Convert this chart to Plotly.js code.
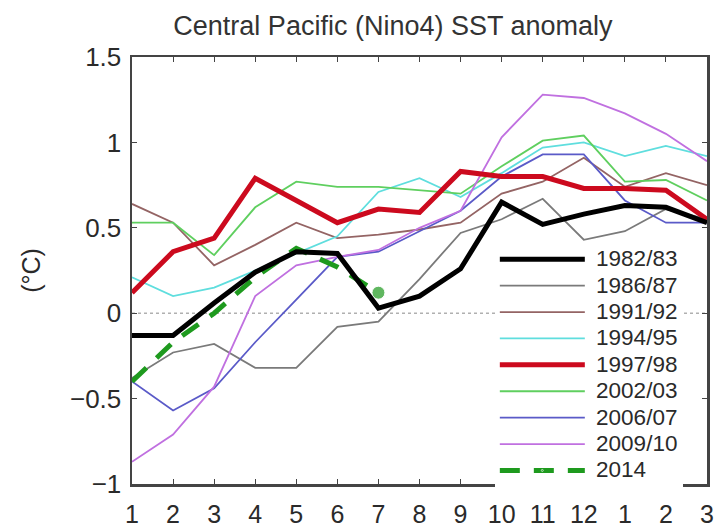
<!DOCTYPE html>
<html>
<head>
<meta charset="utf-8">
<script src="https://cdn.plot.ly/plotly-3.0.1.min.js"></script>
<style>html,body{margin:0;padding:0;background:#fff;}#chart{width:717px;height:531px;}</style>
</head>
<body>
<div id="chart"></div>
<script>
var months = [1,2,3,4,5,6,7,8,9,10,11,12,13,14,15];
var tickLabels = ['1','2','3','4','5','6','7','8','9','10','11','12','1','2','3'];

var names = ['1982/83','1986/87','1991/92','1994/95','1997/98','2002/03','2006/07','2009/10','2014'];

var y1982 = [-0.13,-0.13,0.06,0.24,0.36,0.35,0.03,0.10,0.26,0.65,0.52,0.58,0.63,0.62,0.53];
var y1986 = [-0.38,-0.23,-0.18,-0.32,-0.32,-0.08,-0.05,0.20,0.47,0.55,0.67,0.43,0.48,0.61,0.55];
var y1991 = [0.64,0.53,0.28,0.40,0.53,0.44,0.46,0.49,0.53,0.70,0.77,0.91,0.74,0.82,0.75];
var y1994 = [0.21,0.10,0.15,0.25,0.35,0.45,0.71,0.79,0.68,0.82,0.97,1.00,0.92,0.98,0.92];
var y1997 = [0.12,0.36,0.44,0.79,0.66,0.53,0.61,0.59,0.83,0.80,0.80,0.73,0.73,0.72,0.55];
var y2002 = [0.53,0.53,0.34,0.62,0.77,0.74,0.74,0.72,0.70,0.86,1.01,1.04,0.77,0.78,0.66];
var y2006 = [-0.40,-0.57,-0.44,-0.17,0.08,0.33,0.36,0.48,0.60,0.80,0.93,0.93,0.66,0.53,0.53];
var y2009 = [-0.87,-0.71,-0.43,0.10,0.28,0.33,0.37,0.50,0.60,1.03,1.28,1.26,1.17,1.05,0.89];
var y2014 = [-0.40,-0.17,0.00,0.21,0.38,0.27,0.12];

var series = [y1982,y1986,y1991,y1994,y1997,y2002,y2006,y2009,y2014];
var colors = ['#000000','#7a7a7a','#946464','#5fdede','#cc0a1e','#5fcf5f','#5a5ac8','#c070e0','#1e9a1e'];
var widths = [5,1.8,1.8,1.8,5,1.8,1.8,1.8,5];
var dashes = ['solid','solid','solid','solid','solid','solid','solid','solid','20px,14px'];
// drawing order: thin lines first, then 2014, 1997/98, 1982/83
var drawOrder = [1,2,3,5,6,7,8,4,0];

var traces = drawOrder.map(function(i){
  var ys = series[i];
  var t = {
    type:'scatter', mode:'lines',
    name:'<span style="font-size:22.5px">\u00a0' + names[i] + '</span>',
    x: months.slice(0, ys.length), y: ys,
    line:{color:colors[i], width:widths[i], dash:dashes[i]},
    legendrank: i+1
  };
  if (names[i] === '2014') {
    t.mode = 'lines+markers';
    t.marker = {color:colors[i], size: ys.map(function(v,k){return k===ys.length-1?13:0;})};
  }
  return t;
});

var layout = {
  width:717, height:531,
  margin:{l:132, r:10, t:57, b:47},
  paper_bgcolor:'#fff', plot_bgcolor:'#fff',
  font:{family:'Liberation Sans, Arial, sans-serif', color:'#2a2a2a', size:24},
  title:{text:'Central Pacific (Nino4) SST anomaly', x:0.548, xanchor:'center', xref:'container',
         y:0.951, yref:'container', yanchor:'middle', font:{size:27, color:'#333'}},
  showlegend:true,
  legend:{x:0.631, xanchor:'left', y:0.569, yanchor:'top', bgcolor:'rgba(255,255,255,1)',
          font:{size:18, color:'#2a2a2a'}, itemwidth:85, traceorder:'normal', tracegroupgap:0},
  xaxis:{range:[1,15], tickvals:months, ticktext:tickLabels, showgrid:false, zeroline:false,
         showline:true, linecolor:'#444', linewidth:2.5, mirror:'ticks',
         ticks:'inside', ticklen:5, tickcolor:'#444', ticklabelstandoff:6,
         tickfont:{size:25, color:'#2a2a2a'}},
  yaxis:{range:[-1,1.5], tickvals:[-1,-0.5,0,0.5,1,1.5], ticktext:['\u22121','\u22120.5','0','0.5','1','1.5'],
         showgrid:false, zeroline:false,
         showline:true, linecolor:'#444', linewidth:2.5, mirror:'ticks',
         ticks:'inside', ticklen:5, tickcolor:'#444', ticklabelstandoff:3,
         tickfont:{size:26, color:'#2a2a2a'},
         title:{text:'(°C)', font:{size:25, color:'#2a2a2a'}, standoff:22}},
  shapes:[{type:'line', xref:'paper', x0:0, x1:1, yref:'y', y0:0, y1:0,
           line:{color:'#b0b0b0', width:1.5, dash:'dot'}, layer:'below'}]
};

Plotly.newPlot('chart', traces, layout, {displayModeBar:false, staticPlot:true});
</script>
</body>
</html>
